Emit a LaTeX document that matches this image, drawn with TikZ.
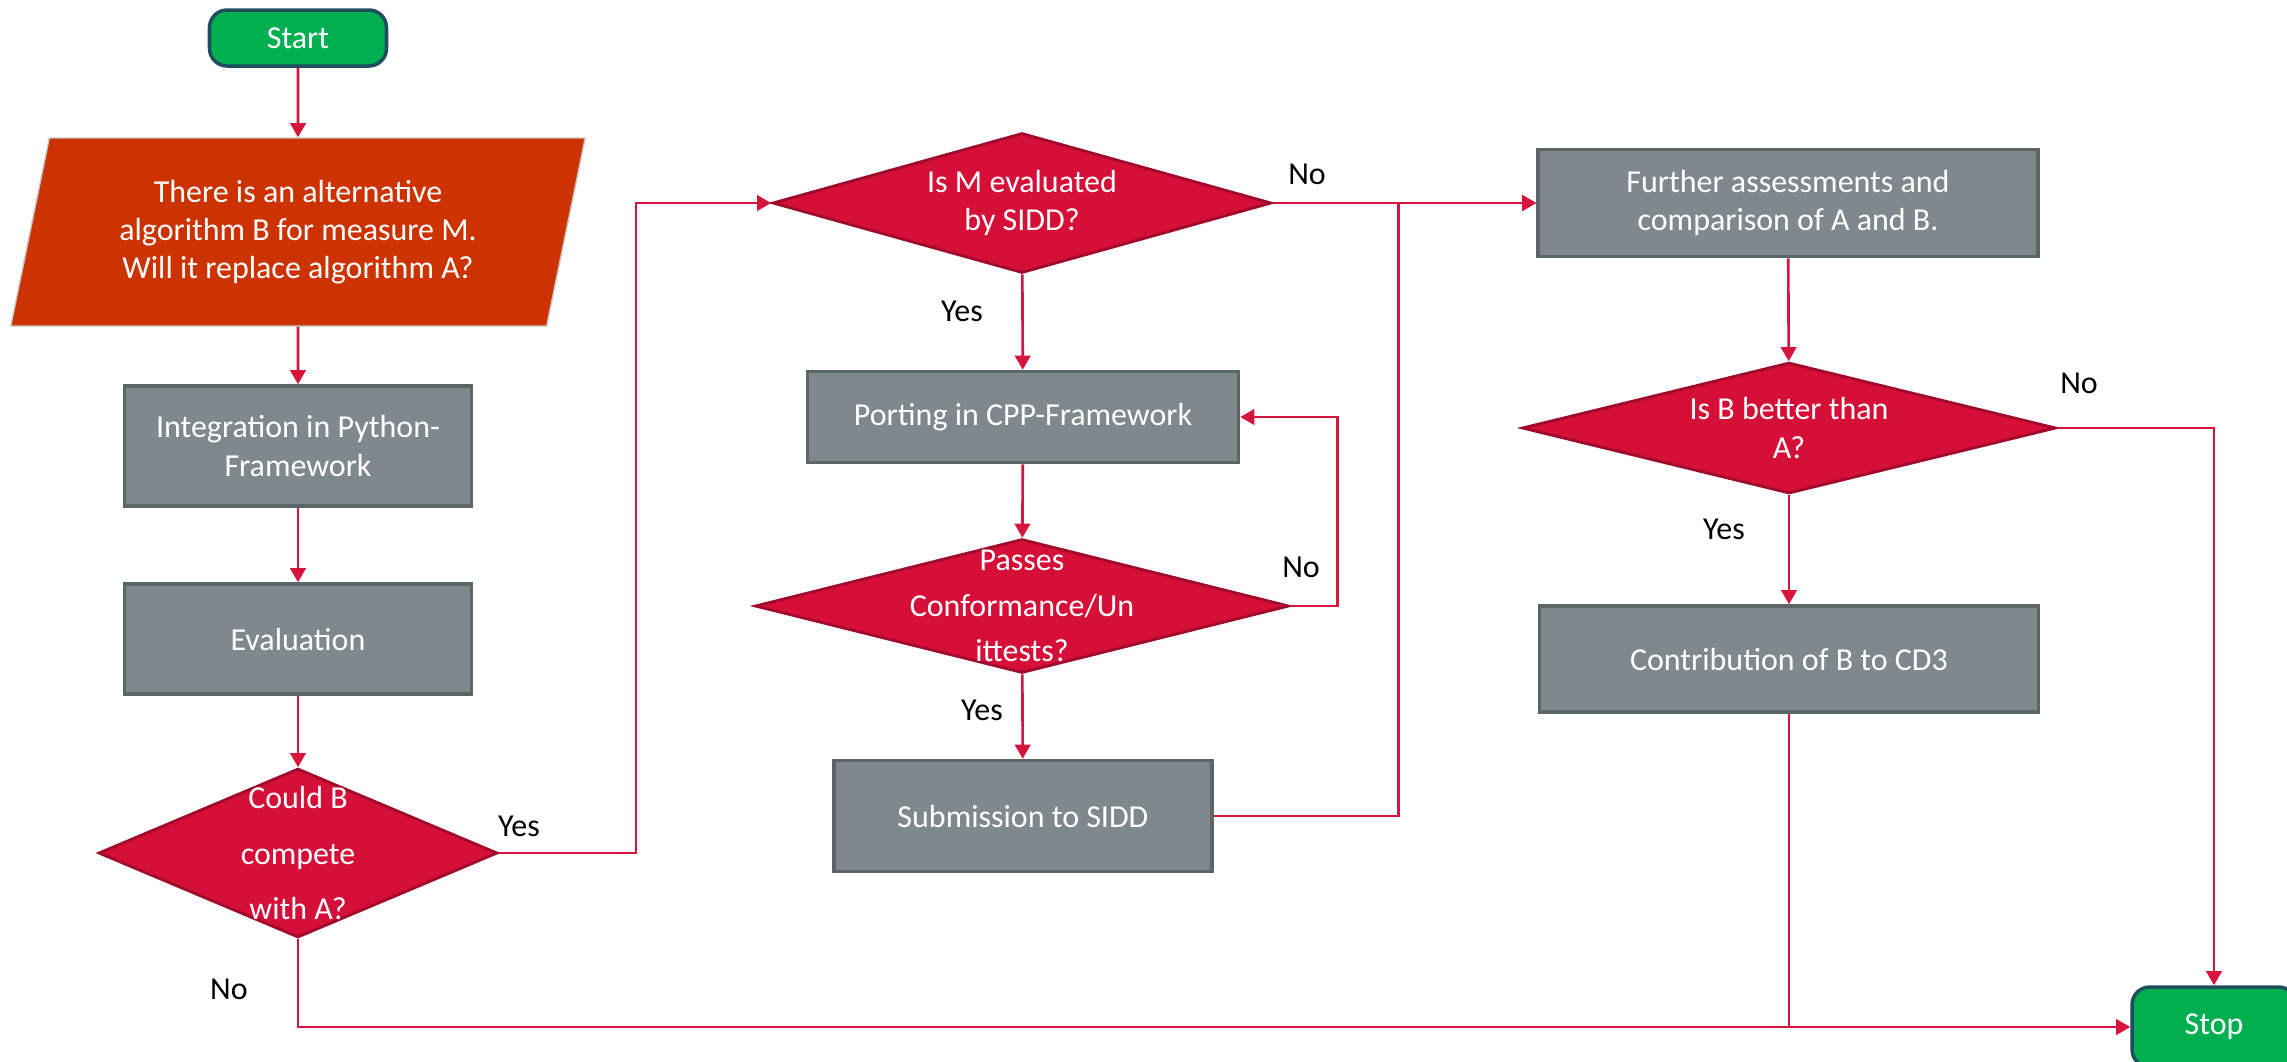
\documentclass[tikz,border=0pt]{standalone}
\usepackage{fontspec}
\setmainfont{Carlito}
\usetikzlibrary{shapes.geometric,arrows.meta}
\definecolor{flowred}{HTML}{D6153D}
\definecolor{decfill}{HTML}{D50F37}
\definecolor{decline}{HTML}{A10A2B}
\definecolor{iofill}{HTML}{CC3300}
\definecolor{procfill}{HTML}{7F898D}
\definecolor{procline}{HTML}{5C6669}
\definecolor{termfill}{HTML}{00B050}
\definecolor{termline}{HTML}{1F4E5F}
\tikzset{
	term/.style={draw=termline, fill=termfill, line width=1pt, rounded corners=5pt, text=white},
	io/.style={trapezium, trapezium left angle=77, trapezium right angle=103, trapezium stretches=true,
		draw=gray!45, fill=iofill, text=white, align=center, minimum width=5.75cm, minimum height=1.88cm},
	proc/.style={draw=procline, fill=procfill, line width=1pt, text=white, align=center},
	dec/.style={diamond, draw=decline, fill=decfill, line width=0.8pt, inner sep=0pt},
	dtext/.style={text=white, align=center},
	flow/.style={draw=flowred, line width=0.75pt, -{Triangle[length=4pt,width=4.4pt]}},
	wire/.style={draw=flowred, line width=0.75pt},
}
\begin{document}
\begin{tikzpicture}[x=1cm, y=-1cm, font=\fontsize{9.1}{10.9}\selectfont]
	\useasboundingbox (0,0) rectangle (22.87,10.61);
	% start / stop
	\node[term, minimum width=1.77cm, minimum height=0.56cm] (start) at (2.98,0.38) {Start};
	\node[term, minimum width=1.64cm, minimum height=0.80cm] (stop) at (22.14,10.27) {Stop};
	% left column
	\node[io] (input) at (2.98,2.32) {There is an alternative\\algorithm B for measure M.\\Will it replace algorithm A?};
	\node[proc, minimum width=3.47cm, minimum height=1.20cm] (pyint) at (2.98,4.46) {Integration in Python-\\Framework};
	\node[proc, minimum width=3.47cm, minimum height=1.10cm] (evalb) at (2.98,6.39) {Evaluation};
	\node[dec, minimum width=3.99cm, minimum height=1.69cm,
		label={[dtext]center:Could B\\[0.175cm]compete\\[0.175cm]with A?}] (compete) at (2.98,8.53) {};
	% middle column
	\node[dec, minimum width=4.99cm, minimum height=1.40cm,
		label={[dtext]center:Is M evaluated\\by SIDD?}] (sidd) at (10.22,2.03) {};
	\node[proc, minimum width=4.31cm, minimum height=0.91cm] (cpp) at (10.23,4.17) {Porting in CPP-Framework};
	\node[dec, minimum width=5.34cm, minimum height=1.34cm,
		label={[dtext]center:Passes\\[0.07cm]Conformance/Un\\[0.07cm]ittests?}] (tests) at (10.22,6.06) {};
	\node[proc, minimum width=3.78cm, minimum height=1.11cm] (submit) at (10.23,8.16) {Submission to SIDD};
	% right column
	\node[proc, minimum width=5.00cm, minimum height=1.07cm] (assess) at (17.88,2.03) {Further assessments and\\comparison of A and B.};
	\node[dec, minimum width=5.34cm, minimum height=1.31cm,
		label={[dtext]center:Is B better than\\A?}] (better) at (17.89,4.28) {};
	\node[proc, minimum width=4.99cm, minimum height=1.06cm] (contrib) at (17.89,6.59) {Contribution of B to CD3};
	% yes / no
	\foreach \n/\x/\y/\t in {y1/5.19/8.26/Yes, n1/2.29/9.89/No, n2/13.07/1.74/No, y2/9.62/3.11/Yes,
		n3/13.01/5.67/No, y3/9.82/7.10/Yes, n4/20.79/3.83/No, y4/17.24/5.29/Yes}{
		\node (\n) at (\x,\y) {\t};
	}
	% connectors
	\draw[flow] (start) -- (input);
	\draw[flow] (input) -- (pyint);
	\draw[flow] (pyint) -- (evalb);
	\draw[flow] (evalb) -- (compete);
	\draw[flow] (compete.east) -- ++(1.37,0) |- (sidd.west);
	\draw[flow] (compete.south) |- (stop.west);
	\draw[flow] (sidd) -- (cpp);
	\draw[flow] (sidd.east) -- (assess.west);
	\draw[flow] (cpp) -- (tests);
	\draw[flow] (tests.east) -- ++(0.47,0) |- (cpp.east);
	\draw[flow] (tests) -- (submit);
	\draw[flow] (submit.east) -- ++(1.85,0) |- (assess.west);
	\draw[flow] (assess) -- (better);
	\draw[flow] (better.east) -| (stop.north);
	\draw[flow] (better) -- (contrib);
	\draw[wire] (contrib) -- (contrib |- stop.west);
\end{tikzpicture}
\end{document}
